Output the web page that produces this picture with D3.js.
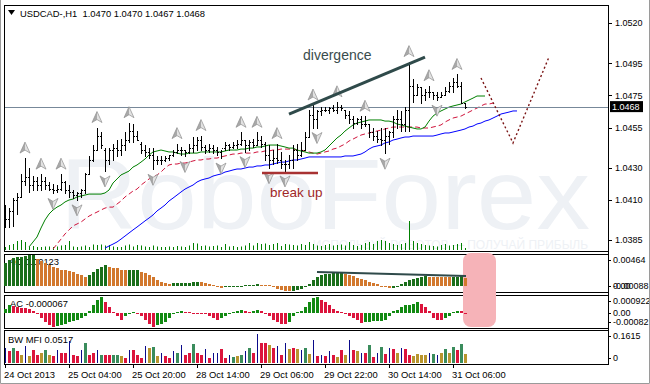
<!DOCTYPE html>
<html lang="en">
<head>
<meta charset="UTF-8">
<title>USDCAD H1</title>
<script src="https://d3js.org/d3.v7.min.js"></script>
<style>
  body { margin: 0; background: #fff; }
  svg text { font-family: "Liberation Sans", Arial, sans-serif; }
</style>
</head>
<body>
<svg width="650" height="384"></svg>
<script>
// ---- price bars (H1), bar 0 = 24 Oct 12:00 ----
const highs = [1.0407,1.0405,1.0411,1.0414,1.0426,1.0436,1.0430,1.0425,1.0424,1.0426,
  1.0424,1.0421,1.0420,1.0419,1.0426,1.0422,1.0419,1.0416,1.0415,1.0417,
  1.0427,1.0437,1.0444,1.0455,1.0452,1.0442,1.0442,1.0445,1.0447,1.0448,
  1.0452,1.0458,1.0457,1.0453,1.0446,1.0444,1.0442,1.0442,1.0437,1.0437,
  1.0437,1.0438,1.0441,1.0445,1.0443,1.0441,1.0445,1.0449,1.0449,1.0450,
  1.0444,1.0445,1.0444,1.0443,1.0441,1.0446,1.0445,1.0446,1.0447,1.0452,
  1.0447,1.0447,1.0448,1.0452,1.0450,1.0446,1.0444,1.0441,1.0445,1.0440,
  1.0435,1.0438,1.0444,1.0445,1.0446,1.0452,1.0466,1.0469,1.0466,1.0468,
  1.0468,1.0468,1.0469,1.0471,1.0469,1.0466,1.0465,1.0462,1.0461,1.0462,
  1.0462,1.0457,1.0455,1.0453,1.0455,1.0455,1.0453,1.0462,1.0466,1.0465,
  1.0468,1.0496,1.0485,1.0482,1.0480,1.0479,1.0481,1.0477,1.0477,1.0477,
  1.0480,1.0483,1.0486,1.0488,1.0483,1.0470];
const lows = [1.0393,1.0393,1.0394,1.0401,1.0412,1.0419,1.0415,1.0416,1.0416,1.0416,
  1.0417,1.0416,1.0414,1.0415,1.0416,1.0414,1.0412,1.0411,1.0410,1.0412,
  1.0414,1.0426,1.0434,1.0441,1.0442,1.0428,1.0432,1.0435,1.0437,1.0438,
  1.0441,1.0446,1.0446,1.0447,1.0439,1.0437,1.0436,1.0429,1.0432,1.0432,
  1.0434,1.0435,1.0437,1.0439,1.0438,1.0437,1.0439,1.0440,1.0441,1.0441,
  1.0439,1.0440,1.0439,1.0438,1.0436,1.0441,1.0441,1.0442,1.0442,1.0444,
  1.0440,1.0441,1.0443,1.0444,1.0443,1.0435,1.0430,1.0432,1.0433,1.0430,
  1.0428,1.0430,1.0430,1.0435,1.0437,1.0441,1.0449,1.0455,1.0455,1.0463,
  1.0465,1.0464,1.0465,1.0464,1.0466,1.0461,1.0458,1.0455,1.0457,1.0455,
  1.0456,1.0449,1.0447,1.0446,1.0444,1.0439,1.0445,1.0449,1.0455,1.0453,
  1.0453,1.0453,1.0471,1.0475,1.0470,1.0472,1.0474,1.0473,1.0472,1.0474,
  1.0475,1.0477,1.0477,1.0480,1.0470,1.0467];
const opens = [1.0404,1.0398,1.0403,1.0410,1.0412,1.0422,1.0424,1.0419,1.0422,1.0419,
  1.0422,1.0419,1.0417,1.0416,1.0417,1.0421,1.0416,1.0415,1.0413,1.0414,
  1.0416,1.0426,1.0435,1.0441,1.0450,1.0441,1.0435,1.0441,1.0442,1.0441,
  1.0444,1.0447,1.0453,1.0450,1.0445,1.0441,1.0440,1.0438,1.0435,1.0435,
  1.0435,1.0436,1.0438,1.0440,1.0441,1.0441,1.0440,1.0442,1.0444,1.0447,
  1.0443,1.0441,1.0442,1.0441,1.0440,1.0442,1.0444,1.0443,1.0444,1.0445,
  1.0447,1.0444,1.0446,1.0444,1.0447,1.0445,1.0438,1.0435,1.0436,1.0435,
  1.0432,1.0432,1.0435,1.0441,1.0438,1.0441,1.0449,1.0463,1.0460,1.0465,
  1.0466,1.0466,1.0467,1.0466,1.0468,1.0466,1.0463,1.0460,1.0458,1.0460,
  1.0457,1.0457,1.0452,1.0450,1.0448,1.0447,1.0450,1.0452,1.0460,1.0460,
  1.0457,1.0466,1.0481,1.0475,1.0480,1.0475,1.0477,1.0477,1.0475,1.0474,
  1.0475,1.0478,1.0481,1.0483,1.0481,1.0470];
const closes = [1.0398,1.0403,1.0410,1.0412,1.0422,1.0424,1.0419,1.0422,1.0419,1.0422,
  1.0419,1.0417,1.0416,1.0417,1.0421,1.0416,1.0415,1.0413,1.0414,1.0416,
  1.0426,1.0435,1.0441,1.0450,1.0444,1.0435,1.0441,1.0442,1.0441,1.0444,
  1.0447,1.0453,1.0450,1.0447,1.0441,1.0440,1.0438,1.0435,1.0435,1.0435,
  1.0436,1.0438,1.0440,1.0441,1.0441,1.0440,1.0442,1.0444,1.0447,1.0443,
  1.0441,1.0442,1.0441,1.0440,1.0442,1.0444,1.0443,1.0444,1.0445,1.0447,
  1.0444,1.0446,1.0444,1.0447,1.0445,1.0438,1.0435,1.0436,1.0435,1.0432,
  1.0432,1.0435,1.0441,1.0438,1.0441,1.0449,1.0463,1.0460,1.0465,1.0466,
  1.0466,1.0467,1.0466,1.0468,1.0467,1.0463,1.0460,1.0458,1.0460,1.0457,
  1.0457,1.0452,1.0450,1.0448,1.0447,1.0450,1.0452,1.0460,1.0460,1.0457,
  1.0466,1.0481,1.0475,1.0480,1.0475,1.0477,1.0477,1.0475,1.0474,1.0475,
  1.0478,1.0481,1.0483,1.0481,1.0470,1.0468];
const volumes = [300,500,600,900,1000,800,300,400,300,300,
  350,350,300,350,450,500,900,350,300,350,
  450,300,550,500,550,450,500,350,300,300,
  450,550,350,500,450,350,300,450,350,300,
  300,350,300,400,350,300,450,700,650,400,
  450,350,400,450,300,600,350,400,300,350,
  450,700,450,700,600,650,500,600,700,400,
  600,550,500,450,600,500,800,600,450,400,
  500,600,450,500,550,450,800,500,400,500,
  700,800,600,900,1000,900,700,600,500,600,
  700,2900,900,700,600,500,450,400,350,500,
  600,450,500,600,700,200];

// ---- Alligator lines (shifted forward past the last bar) ----
const lipsStart = 6;
const lips = [1.03807,1.03838,1.03869,1.03925,1.03975,1.04012,1.04037,1.04055,1.04068,1.04087,
  1.04099,1.04105,1.04118,1.04124,1.04130,1.04136,1.04136,1.04136,1.04136,1.04143,
  1.04161,1.04205,1.04230,1.04255,1.04267,1.04279,1.04304,1.04317,1.04335,1.04354,
  1.04379,1.04398,1.04404,1.04410,1.04404,1.04398,1.04398,1.04391,1.04385,1.04385,
  1.04391,1.04391,1.04391,1.04398,1.04398,1.04398,1.04398,1.04398,1.04398,1.04404,
  1.04410,1.04410,1.04410,1.04416,1.04416,1.04422,1.04422,1.04429,1.04429,1.04435,
  1.04441,1.04441,1.04441,1.04435,1.04429,1.04422,1.04422,1.04410,1.04404,1.04398,
  1.04391,1.04391,1.04391,1.04398,1.04410,1.04435,1.04460,1.04485,1.04503,1.04528,
  1.04547,1.04566,1.04578,1.04584,1.04590,1.04597,1.04597,1.04597,1.04597,1.04590,
  1.04590,1.04584,1.04572,1.04566,1.04559,1.04553,1.04547,1.04541,1.04541,1.04553,
  1.04590,1.04621,1.04640,1.04653,1.04665,1.04677,1.04684,1.04690,1.04696,1.04709,
  1.04721,1.04733,1.04746,1.04746,1.04746];
const teethStart = 12;
const teeth = [1.03794,1.03825,1.03856,1.03888,1.03913,1.03938,1.03950,1.03962,1.03981,1.03999,
  1.04012,1.04024,1.04037,1.04049,1.04055,1.04055,1.04074,1.04093,1.04118,1.04136,
  1.04155,1.04167,1.04192,1.04211,1.04230,1.04242,1.04255,1.04273,1.04298,1.04317,
  1.04323,1.04323,1.04329,1.04329,1.04335,1.04342,1.04348,1.04348,1.04354,1.04354,
  1.04360,1.04360,1.04367,1.04373,1.04379,1.04385,1.04385,1.04391,1.04391,1.04391,
  1.04391,1.04398,1.04398,1.04404,1.04404,1.04410,1.04410,1.04416,1.04416,1.04416,
  1.04416,1.04410,1.04410,1.04404,1.04398,1.04391,1.04385,1.04391,1.04398,1.04404,
  1.04416,1.04422,1.04435,1.04447,1.04466,1.04478,1.04491,1.04503,1.04510,1.04516,
  1.04522,1.04528,1.04534,1.04541,1.04547,1.04553,1.04553,1.04553,1.04553,1.04553,
  1.04553,1.04553,1.04547,1.04547,1.04547,1.04553,1.04559,1.04566,1.04584,1.04597,
  1.04609,1.04615,1.04621,1.04634,1.04646,1.04659,1.04671,1.04684,1.04696,1.04696,1.04702];
const jawStart = 25;
const jaw = [1.03800,1.03813,1.03825,1.03838,1.03856,1.03875,1.03894,1.03913,1.03931,1.03950,
  1.03969,1.03987,1.04006,1.04031,1.04049,1.04068,1.04093,1.04111,1.04130,1.04149,
  1.04167,1.04180,1.04192,1.04211,1.04223,1.04230,1.04236,1.04248,1.04255,1.04261,
  1.04273,1.04279,1.04286,1.04292,1.04292,1.04298,1.04304,1.04304,1.04311,1.04311,
  1.04317,1.04317,1.04323,1.04329,1.04335,1.04335,1.04342,1.04348,1.04348,1.04354,
  1.04360,1.04367,1.04367,1.04367,1.04367,1.04367,1.04367,1.04367,1.04367,1.04367,
  1.04373,1.04373,1.04373,1.04379,1.04385,1.04398,1.04416,1.04429,1.04435,1.04441,
  1.04454,1.04460,1.04472,1.04478,1.04485,1.04491,1.04491,1.04497,1.04497,1.04497,
  1.04497,1.04497,1.04497,1.04503,1.04510,1.04516,1.04516,1.04522,1.04528,1.04534,
  1.04541,1.04553,1.04559,1.04572,1.04578,1.04590,1.04597,1.04609,1.04621,1.04634,1.04640,1.04646,1.04653,1.04653];

// ---- fractals (bar indices) ----
const fractalUp = [5,9,14,23,31,43,49,59,63,68,77,83,90,101,106,113];
const fractalDown = [12,18,25,37,45,54,60,66,70,78,95,108];

// ---- oscillators ----
const ao = [0.0035,0.0039,0.0042,0.0043,0.0044,0.0045,0.0046,0.00464,0.0041,0.0038,
  0.0035,0.0031,0.0028,0.0026,0.0024,0.0023,0.0022,0.0020,0.0018,0.0016,
  0.0013,0.0016,0.0021,0.0025,0.0029,0.0031,0.0029,0.0027,0.0026,0.0024,
  0.0023,0.00235,0.0024,0.00242,0.0021,0.0019,0.0016,0.0013,0.0009,0.0006,
  0.0004,0.0003,0.00035,0.0004,0.00042,0.00045,0.00047,0.0005,0.00052,0.0005,
  0.00045,0.0003,0.0001,-0.0002,-0.0003,-0.00022,-0.00015,-0.0001,-0.00005,0.00002,
  0.00005,0.0001,0.00015,0.0002,0.00015,0.0001,0.00005,-0.0002,-0.0005,-0.0007,
  -0.0008,-0.00085,-0.0008,-0.0007,-0.0005,-0.0002,0.0003,0.0008,0.0013,0.0016,
  0.0017,0.0018,0.00185,0.0019,0.00192,0.0018,0.0016,0.0014,0.0012,0.0010,
  0.0008,0.0006,0.0004,0.0002,-0.00005,-0.0002,-0.00035,-0.0003,-0.0001,0.0002,
  0.0005,0.0008,0.0010,0.0012,0.00135,0.0014,0.00138,0.00136,0.00134,0.00132,
  0.0013,0.00128,0.0013,0.00135,0.0014,0.00123];
const ac = [0.0002,0.0004,0.00035,0.0003,0.00028,0.00025,0.0002,0.0001,-0.0001,-0.0003,
  -0.0005,-0.0007,-0.0008,-0.00075,-0.0007,-0.0006,-0.0005,-0.00045,-0.0004,-0.0003,
  -0.0002,0.0001,0.0004,0.0007,0.00085,0.0006,0.0003,0.00005,-0.0002,-0.0004,
  -0.0002,-0.0001,0.00003,-0.00005,-0.0002,-0.0004,-0.0006,-0.0008,-0.0007,-0.0006,
  -0.0005,-0.0003,-0.0001,0.00005,0.0001,0.00005,0.00002,-0.00002,-0.00003,-0.00005,
  -0.0001,-0.0002,-0.0003,-0.0004,-0.0003,-0.0002,-0.00005,0.00005,0.0001,0.00015,
  0.0001,0.00005,0.0001,0.00015,0.0001,-0.0001,-0.0002,-0.0004,-0.0005,-0.0006,
  -0.00065,-0.0005,-0.0002,0.00005,0.0001,0.0003,0.0006,0.0008,0.00085,0.0007,
  0.0006,0.0004,0.0002,0.0001,0.00003,-0.0001,-0.0002,-0.0003,-0.0004,-0.00055,
  -0.0005,-0.00049,-0.00048,-0.00047,-0.00045,-0.00042,-0.0002,0.0001,0.00015,0.0003,
  0.0004,0.00045,0.0005,0.0006,0.0005,0.0003,0.0001,-0.0003,-0.0004,-0.00042,
  -0.0003,-0.0002,0.00003,0.0001,0.00008,-0.000067];
const mfi = [0.085,0.066,0.085,0.066,0.047,0.094,0.038,0.075,0.047,0.057,
  0.075,0.042,0.038,0.072,0.057,0.057,0.123,0.047,0.038,0.075,
  0.113,0.042,0.057,0.075,0.047,0.047,0.047,0.047,0.047,0.038,
  0.028,0.075,0.072,0.047,0.028,0.094,0.081,0.091,0.038,0.057,
  0.038,0.028,0.066,0.057,0.098,0.047,0.057,0.104,0.057,0.047,
  0.079,0.028,0.053,0.057,0.079,0.028,0.047,0.032,0.038,0.047,
  0.066,0.085,0.057,0.1615,0.113,0.110,0.098,0.085,0.094,0.047,
  0.113,0.079,0.085,0.079,0.075,0.085,0.051,0.127,0.038,0.047,
  0.038,0.066,0.044,0.034,0.072,0.047,0.127,0.075,0.066,0.057,
  0.057,0.098,0.032,0.057,0.089,0.051,0.085,0.079,0.057,0.085,
  0.079,0.047,0.040,0.051,0.047,0.047,0.057,0.051,0.047,0.053,
  0.079,0.057,0.089,0.070,0.104,0.0517];
// g = green, b = fade, n = fake, p = squat
const mfiZones = ("npgpbnbppb" + "gbpnppnppn" + "gppngppggb" + "pnpppnbgbn" +
  "ppngnppgpp" + "npnnppngbg" + "ngpnppbpnp" + "nbpbngbnpn" +
  "pnpbpbnpbn" + "pgpngpnpbn" + "ppbbbbngnb" + "gbgpgb").split("");

// ---- axes ----
const priceTicks = [1.0520, 1.0495, 1.0475, 1.0455, 1.0430, 1.0410, 1.0385];
const lastPrice = 1.0468;
const dateBars = [0, 16, 32, 48, 64, 80, 96, 112];
const dateLabels = ["24 Oct 2013", "25 Oct 04:00", "25 Oct 20:00", "28 Oct 14:00",
  "29 Oct 06:00", "29 Oct 22:00", "30 Oct 14:00", "31 Oct 06:00"];
const aoLabels = [[0.00464, "0.00464"], [0, "0.00"], [-0.00088, "-0.00088"]];
const acLabels = [[0.000922, "0.000922"], [0, "0.00"], [-0.00082, "-0.00082"]];
const mfiLabels = [[0.1615, "0.1615"], [0, "0"]];

// ---- drawn annotations: [bar, value] ----
const divergenceLine = [[71, 1.04634], [105, 1.04988]];
const aoDivergenceLine = [[78, 0.00207], [115.25, 0.00146]];
const breakUpLine = [[64.25, 1.04267], [78.25, 1.04267]];
const forecastPath = [[119, 1.04858], [127, 1.04454], [136, 1.04988]];
const highlightBars = [114.5, 122.75];

const svg = d3.select("svg");
const left = 4, right = 608;
const main = {top: 5, bottom: 251},
      aoP = {top: 254, bottom: 292},
      acP = {top: 295, bottom: 328},
      mfiP = {top: 330, bottom: 364};

const x = d3.scaleLinear().domain([0, 115]).range([5, 465]);
const y = d3.scaleLinear().domain([1.03782, 1.05312]).range([251, 5]);
const yVol = d3.scaleLinear().domain([0, 2900]).range([250, 221]);
const yAO = d3.scaleLinear().domain([-0.00088, 0.00464]).range([291.5, 255]);
const yAC = d3.scaleLinear().domain([-0.00082, 0.000922]).range([327.5, 296]);
const yMFI = d3.scaleLinear().domain([0, 0.1615]).range([363, 334]);

svg.append("rect").attr("width", 650).attr("height", 384).attr("fill", "#fff");

svg.append("clipPath").attr("id", "mainClip")
  .append("rect").attr("x", left).attr("y", main.top)
  .attr("width", right - left).attr("height", main.bottom - main.top);

const mainG = svg.append("g").attr("clip-path", "url(#mainClip)");

// watermark
mainG.append("text").attr("x", 60).attr("y", 229)
  .attr("font-size", 100).attr("textLength", 530).attr("lengthAdjust", "spacingAndGlyphs")
  .attr("fill", "#eef1f5").text("RoboForex");
mainG.append("text").attr("x", 588).attr("y", 249).attr("text-anchor", "end")
  .attr("font-size", 12).attr("fill", "#eef1f5")
  .text("ИСПОЛЬЗУЙ РОБОТОВ — ПОЛУЧАЙ ПРИБЫЛЬ");

// tick volumes
mainG.append("g").selectAll("rect").data(volumes).join("rect")
  .attr("x", (d, i) => Math.round(x(i)))
  .attr("width", 1)
  .attr("y", d => yVol(d))
  .attr("height", d => 250 - yVol(d))
  .attr("fill", "#008000");

// alligator
function shiftedLine(values, start) {
  return d3.line().x((d, k) => x(start + k)).y(d => y(d))(values);
}
mainG.append("path").attr("d", shiftedLine(jaw, jawStart))
  .attr("fill", "none").attr("stroke", "#0000ff").attr("stroke-width", 1);
mainG.append("path").attr("d", shiftedLine(teeth, teethStart))
  .attr("fill", "none").attr("stroke", "#d0143c").attr("stroke-width", 1)
  .attr("stroke-dasharray", "5,3");
mainG.append("path").attr("d", shiftedLine(lips, lipsStart))
  .attr("fill", "none").attr("stroke", "#008000").attr("stroke-width", 1);

// last price line
mainG.append("line")
  .attr("x1", left).attr("x2", right)
  .attr("y1", Math.round(y(lastPrice)) + 0.5).attr("y2", Math.round(y(lastPrice)) + 0.5)
  .attr("stroke", "#778899");

// OHLC bars
mainG.append("g").selectAll("path").data(highs).join("path")
  .attr("d", (h, i) => {
    const px = Math.round(x(i));
    const yh = Math.round(y(h)), yl = Math.round(y(lows[i]));
    const yo = Math.round(y(opens[i])), yc = Math.round(y(closes[i]));
    return `M${px + 0.5},${yh}V${yl + 1}M${px - 1},${yo + 0.5}H${px}M${px + 1},${yc + 0.5}H${px + 2}`;
  })
  .attr("fill", "none").attr("stroke", "#000").attr("stroke-width", 1)
  .attr("shape-rendering", "crispEdges");

// fractal arrows
function drawArrow(cx, cy, up) {
  const s = up ? 1 : -1;
  const g = mainG.append("g").attr("transform", `translate(${cx},${cy}) scale(1,${s})`);
  g.append("path").attr("d", "M0,-6L0,2L-5,5Z").attr("fill", "#a9a9a9");
  g.append("path").attr("d", "M0,-6L5,5L0,2Z").attr("fill", "#e2e2e2");
  g.append("path").attr("d", "M0,-6L5,5L0,2L-5,5Z").attr("fill", "none")
    .attr("stroke", "#8e8e8e").attr("stroke-width", 0.7);
}
fractalUp.forEach(i => drawArrow(x(i), y(highs[i]) - 10, true));
fractalDown.forEach(i => drawArrow(x(i), y(lows[i]) + 10, false));

// hand-drawn annotations
const ptLine = d3.line().x(d => x(d[0])).y(d => y(d[1]));
mainG.append("path").attr("d", ptLine(divergenceLine))
  .attr("stroke", "#2f4a4a").attr("stroke-width", 3).attr("fill", "none");
mainG.append("path").attr("d", ptLine(breakUpLine))
  .attr("stroke", "#a83232").attr("stroke-width", 2.5).attr("fill", "none");
mainG.append("path").attr("d", ptLine(forecastPath))
  .attr("stroke", "#7a1414").attr("stroke-width", 1.4).attr("fill", "none")
  .attr("stroke-dasharray", "2,2.5");
mainG.append("text").attr("x", x(74.5)).attr("y", y(1.0497))
  .attr("font-size", 14).attr("fill", "#3a4c4c").text("divergence");
mainG.append("text").attr("x", x(66.25)).attr("y", y(1.0412))
  .attr("font-size", 13.5).attr("fill", "#a02828").text("break up");

// header
svg.append("path").attr("d", "M8,10L15,10L11.5,15Z").attr("fill", "#000");
svg.append("text").attr("x", 20).attr("y", 16.5).attr("font-size", 9.4)
  .style("white-space", "pre").attr("fill", "#000")
  .text("USDCAD-,H1  1.0470 1.0470 1.0467 1.0468");

// panel frames
[main, aoP, acP, mfiP].forEach(p => {
  svg.append("rect").attr("x", left + 0.5).attr("y", p.top + 0.5)
    .attr("width", right - left).attr("height", p.bottom - p.top)
    .attr("fill", "none").attr("stroke", "#000").attr("shape-rendering", "crispEdges");
});

// highlight box over the oscillators
svg.append("rect")
  .attr("x", x(highlightBars[0])).attr("width", x(highlightBars[1]) - x(highlightBars[0]))
  .attr("y", aoP.top - 1).attr("height", acP.bottom - aoP.top)
  .attr("rx", 8).attr("fill", "#f6b3b8");

// oscillator names (drawn under the bars)
svg.append("text").attr("x", 9).attr("y", 265).attr("font-size", 9.4)
  .text("AO " + ao[ao.length - 1].toFixed(5));
svg.append("text").attr("x", 10).attr("y", 306.5).attr("font-size", 9.4)
  .text("AC " + ac[ac.length - 1].toFixed(6));
svg.append("text").attr("x", 8).attr("y", 343).attr("font-size", 9.4)
  .text("BW MFI " + mfi[mfi.length - 1].toFixed(4));

// AO histogram
svg.append("g").selectAll("rect").data(ao).join("rect")
  .attr("x", (d, i) => Math.round(x(i)) - 1).attr("width", 3)
  .attr("y", d => Math.min(yAO(d), yAO(0)))
  .attr("height", d => Math.max(1, Math.abs(yAO(d) - yAO(0))))
  .attr("fill", (d, i) => (i === 0 || d > ao[i - 1]) ? "#1a6e1a" : "#d2782d")
  .attr("shape-rendering", "crispEdges");

// AC histogram
svg.append("g").selectAll("rect").data(ac).join("rect")
  .attr("x", (d, i) => Math.round(x(i)) - 1).attr("width", 3)
  .attr("y", d => Math.min(yAC(d), yAC(0)))
  .attr("height", d => Math.max(1, Math.abs(yAC(d) - yAC(0))))
  .attr("fill", (d, i) => (i === 0 || d > ac[i - 1]) ? "#128a12" : "#dc143c")
  .attr("shape-rendering", "crispEdges");

// MFI histogram
const zoneColor = {g: "#3a8c5c", b: "#b8952e", n: "#0a0a8a", p: "#dc143c"};
svg.append("g").selectAll("rect").data(mfi).join("rect")
  .attr("x", (d, i) => Math.round(x(i)) - (mfiZones[i] === "n" ? 0 : 1))
  .attr("width", (d, i) => mfiZones[i] === "n" ? 1 : 3)
  .attr("y", d => yMFI(d))
  .attr("height", d => yMFI(0) - yMFI(d))
  .attr("fill", (d, i) => zoneColor[mfiZones[i]])
  .attr("shape-rendering", "crispEdges");

// AO divergence trend line
svg.append("path")
  .attr("d", d3.line().x(d => x(d[0])).y(d => yAO(d[1]))(aoDivergenceLine))
  .attr("stroke", "#2f4a4a").attr("stroke-width", 2).attr("fill", "none");

// right price axis
svg.append("line").attr("x1", right + 0.5).attr("x2", right + 0.5)
  .attr("y1", main.top).attr("y2", mfiP.bottom + 1).attr("stroke", "#000");
const axisG = svg.append("g").attr("font-size", 9).attr("fill", "#000");
priceTicks.forEach(v => {
  const py = Math.round(y(v)) + 0.5;
  axisG.append("line").attr("x1", right).attr("x2", right + 4)
    .attr("y1", py).attr("y2", py).attr("stroke", "#000");
  axisG.append("text").attr("x", 615).attr("y", y(v) + 3.3).text(v.toFixed(4));
});
axisG.append("rect").attr("x", 610).attr("y", y(lastPrice) - 5.5)
  .attr("width", 33).attr("height", 11).attr("fill", "#000");
axisG.append("text").attr("x", 612).attr("y", y(lastPrice) + 3.3)
  .attr("fill", "#fff").text(lastPrice.toFixed(4));

function panelLabels(p, scale, labels) {
  labels.forEach(([v, t]) => {
    const ly = Math.max(p.top + 6, Math.min(p.bottom - 6, scale(v)));
    axisG.append("line").attr("x1", right).attr("x2", right + 3)
      .attr("y1", Math.round(ly) + 0.5).attr("y2", Math.round(ly) + 0.5).attr("stroke", "#000");
    axisG.append("text").attr("x", 613).attr("y", ly + 3.3).text(t);
  });
}
panelLabels(aoP, yAO, aoLabels);
panelLabels(acP, yAC, acLabels);
panelLabels(mfiP, yMFI, mfiLabels);

// time axis
const timeG = svg.append("g").attr("font-size", 9.4).attr("fill", "#000");
dateBars.forEach((b, k) => {
  const px = Math.round(x(b)) + 0.5;
  timeG.append("line").attr("x1", px).attr("x2", px)
    .attr("y1", mfiP.bottom).attr("y2", mfiP.bottom + 4).attr("stroke", "#000");
  timeG.append("text").attr("x", x(b) - 1).attr("y", 377.5).text(dateLabels[k]);
});

// window frame
svg.append("path").attr("d", "M0.5,0V383.5H649.5V0")
  .attr("fill", "none").attr("stroke", "#9a9a9a");
</script>
</body>
</html>
